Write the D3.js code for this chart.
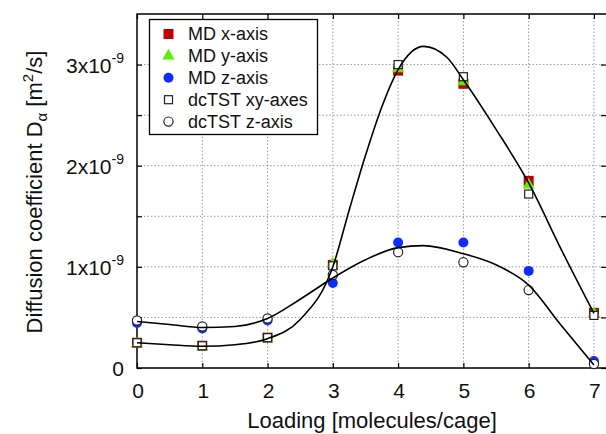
<!DOCTYPE html>
<html><head><meta charset="utf-8">
<script src="https://cdn.jsdelivr.net/npm/d3@7"></script>
<style>
html,body{margin:0;padding:0;background:#fff;}
svg{display:block;font-family:"Liberation Sans",Arial,Helvetica,sans-serif;}
</style></head>
<body><svg id="c" width="606" height="434"></svg>
<script>
// Values in units of 1e-9 m^2/s
const loading = [0, 1, 2, 3, 4, 5, 6, 7];
const mdX   = [0.25, 0.22, 0.30, 1.02, 2.94, 2.81, 1.85, 0.545];
const mdY   = [0.24, 0.21, 0.29, 1.03, 2.96, 2.83, 1.81, 0.54];
const mdZ   = [0.445, 0.39, 0.47, 0.84, 1.24, 1.24, 0.96, 0.07];
const tstXY = [0.25, 0.22, 0.30, 1.01, 3.00, 2.88, 1.72, 0.52];
const tstZ  = [0.47, 0.41, 0.49, 0.92, 1.145, 1.045, 0.77, 0.04];
// fitted curves
const fitUpperX = [0, 0.5, 1, 1.5, 2, 2.5, 3, 3.25, 3.5, 3.75, 4, 4.39, 4.75, 5, 5.5, 6, 6.5, 7];
const fitUpperY = [0.25, 0.23, 0.215, 0.23, 0.29, 0.48, 1.0, 1.56, 2.1, 2.58, 2.95, 3.18, 3.07, 2.85, 2.36, 1.83, 1.17, 0.54];
const fitLowerX = [0, 0.5, 1, 1.5, 2, 2.5, 3, 3.5, 4, 4.39, 5, 5.5, 6, 6.5, 7];
const fitLowerY = [0.46, 0.43, 0.40, 0.41, 0.49, 0.68, 0.89, 1.07, 1.19, 1.21, 1.13, 1.02, 0.82, 0.42, 0.03];
const xTicks = [0, 1, 2, 3, 4, 5, 6, 7];
const yTicks = [0, 0.5, 1, 1.5, 2, 2.5, 3];
const yLabelTicks = [0, 1, 2, 3];
const legendLabels = ["MD x-axis", "MD y-axis", "MD z-axis", "dcTST xy-axes", "dcTST z-axis"];

const svg = d3.select("#c");
const L = 137, R = 607, T = 14, B = 368;
const x = d3.scaleLinear().domain([0, 7.2]).range([L, R]);
const y = d3.scaleLinear().domain([0, 3.5]).range([B, T]);

// grid
const grid = svg.append("g").attr("stroke", "#9a9a9a").attr("stroke-width", 1).attr("stroke-dasharray", "1.5,2");
grid.selectAll("line.gx").data(xTicks.filter(d => d > 0)).join("line")
  .attr("x1", d => x(d)).attr("x2", d => x(d)).attr("y1", T).attr("y2", B);
grid.selectAll("line.gy").data(yTicks.filter(d => d > 0)).join("line")
  .attr("x1", L).attr("x2", R).attr("y1", d => y(d)).attr("y2", d => y(d));

// axes (inward ticks)
function styleAxis(g){ g.select(".domain").remove(); g.selectAll("line").attr("stroke","#000").attr("stroke-width",1.2); }
svg.append("g").attr("transform", `translate(0,${B})`)
  .call(d3.axisTop(x).tickValues(xTicks).tickSize(5).tickFormat(""))
  .call(styleAxis);
svg.append("g").attr("transform", `translate(0,${T})`)
  .call(d3.axisBottom(x).tickValues(xTicks).tickSize(5).tickFormat(""))
  .call(styleAxis);
svg.append("g").attr("transform", `translate(${L},0)`)
  .call(d3.axisRight(y).tickValues(yTicks).tickSize(5).tickFormat(""))
  .call(styleAxis);
svg.append("g").attr("transform", `translate(${R - 1},0)`)
  .call(d3.axisLeft(y).tickValues(yTicks).tickSize(5).tickFormat(""))
  .call(styleAxis);

// frame
svg.append("rect").attr("x", L).attr("y", T).attr("width", R - L).attr("height", B - T)
  .attr("fill", "none").attr("stroke", "#000").attr("stroke-width", 1.5);

// x tick labels
svg.append("g").selectAll("text").data(xTicks).join("text")
  .attr("x", d => x(d) + 1).attr("y", B + 30).attr("text-anchor", "middle")
  .attr("font-size", 21).attr("fill", "#111").text(d => d);

// y tick labels
const yl = svg.append("g").selectAll("text").data(yLabelTicks).join("text")
  .attr("x", 124).attr("y", d => y(d) + 8).attr("text-anchor", "end")
  .attr("font-size", 21).attr("fill", "#111");
yl.each(function(d){
  const t = d3.select(this);
  if (d === 0) { t.text("0"); return; }
  t.append("tspan").text(d + "x10");
  t.append("tspan").attr("font-size", 14).attr("dy", -10).text("-9");
});

// axis titles
svg.append("text").attr("x", 372).attr("y", 428).attr("text-anchor", "middle")
  .attr("font-size", 22).attr("fill", "#111").text("Loading [molecules/cage]");
const yt = svg.append("text").attr("transform", "translate(42,192) rotate(-90)")
  .attr("text-anchor", "middle").attr("font-size", 22).attr("fill", "#111");
yt.append("tspan").text("Diffusion coefficient D");
yt.append("tspan").attr("font-size", 15).attr("dy", 5).text("α");
yt.append("tspan").attr("dy", -5).text(" [m");
yt.append("tspan").attr("font-size", 15).attr("dy", -9).text("2");
yt.append("tspan").attr("dy", 9).text("/s]");

// markers
const cRed = "#c20000", cGreen = "#5fee00", cBlue = "#0f2dff";
function sq(g, s, fill, stroke, sw){
  return g.append("rect").attr("x", -s/2).attr("y", -s/2).attr("width", s).attr("height", s)
    .attr("fill", fill).attr("stroke", stroke).attr("stroke-width", sw);
}
function tri(g, s, fill){
  return g.append("path").attr("d", d3.symbol(d3.symbolTriangle, s*s*0.45)()).attr("fill", fill);
}
function circ(g, r, fill, stroke, sw){
  return g.append("circle").attr("r", r).attr("fill", fill).attr("stroke", stroke).attr("stroke-width", sw);
}
const drawers = [
  g => sq(g, 10, cRed, "none", 0),
  g => tri(g, 12, cGreen),
  g => circ(g, 5, cBlue, "none", 0),
  g => sq(g, 8, "#fff", "#222", 1.2),
  g => circ(g, 4.6, "#fff", "#222", 1.2)
];
const series = [mdX, mdY, mdZ, tstXY, tstZ];
series.forEach((vals, i) => {
  svg.append("g").selectAll("g").data(loading).join("g")
    .attr("transform", (d, j) => `translate(${x(d)},${y(vals[j])})`)
    .each(function(){ drawers[i](d3.select(this)); });
});

// fitted curves
const line = d3.line().x(d => x(d[0])).y(d => y(d[1])).curve(d3.curveMonotoneX);
svg.append("path").datum(fitUpperX.map((v, i) => [v, fitUpperY[i]]))
  .attr("d", line).attr("fill", "none").attr("stroke", "#000").attr("stroke-width", 1.6);
svg.append("path").datum(fitLowerX.map((v, i) => [v, fitLowerY[i]]))
  .attr("d", line).attr("fill", "none").attr("stroke", "#000").attr("stroke-width", 1.6);

// legend
const lg = svg.append("g");
lg.append("rect").attr("x", 149.5).attr("y", 19.5).attr("width", 168).attr("height", 115)
  .attr("fill", "#fff").attr("stroke", "#000").attr("stroke-width", 1.3);
legendLabels.forEach((lab, i) => {
  const by = 40 + i * 21.9;
  const g = lg.append("g").attr("transform", `translate(168.5,${by - 6})`);
  drawers[i](g);
  lg.append("text").attr("x", 188).attr("y", by).attr("font-size", 18).attr("fill", "#111").text(lab);
});
</script></body></html>
